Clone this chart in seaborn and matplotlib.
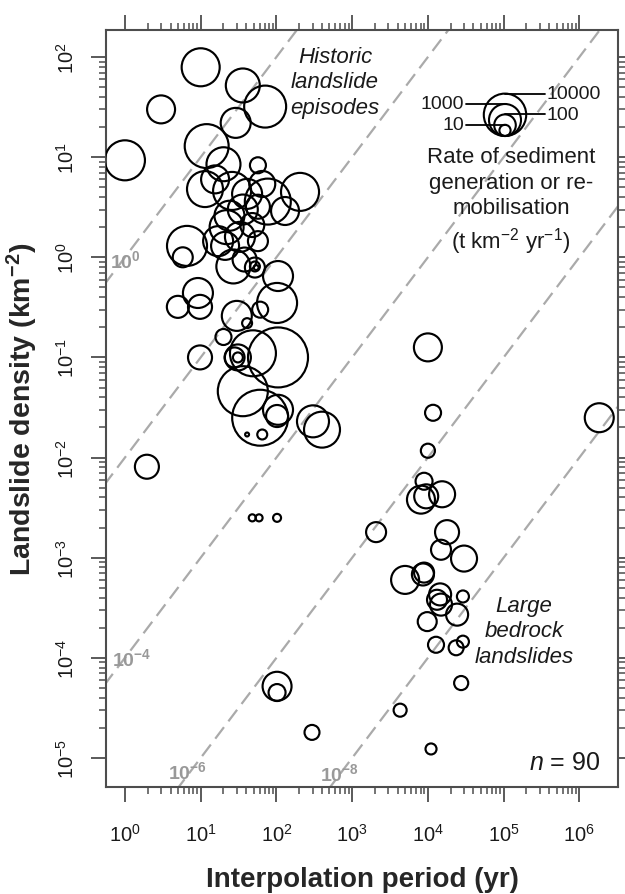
import numpy as np
import pandas as pd
import matplotlib
matplotlib.use("Agg")
import matplotlib.pyplot as plt
import seaborn as sns
from matplotlib.ticker import FixedLocator, LogFormatterMathtext, NullFormatter

# ---------------- data ----------------
period = [10, 3.0, 1.0, 36, 71, 29, 12, 20, 57, 11.4,
          26, 205, 77, 41, 57, 36, 24, 22, 17, 21,
          33, 6.6, 5.8, 57, 27, 52, 52, 54, 105, 9.2,
          5.0, 9.8, 102, 61, 30, 41, 20, 9.8, 31, 31,
          28, 49, 105, 36, 61, 105, 102, 65, 41, 304,
          400, 1.95, 48, 59, 102, 102, 102, 295, 10000, 11700,
          10000, 1.83e6, 8900, 8100, 9500, 15400, 2070, 17900, 14900, 30000,
          5000, 8600, 8900, 14500, 13200, 14900, 29000, 24300, 9800, 12800,
          23600, 29000, 27500, 4300, 11000, 15.5, 48, 130, 38, 65]
density = [79, 30, 9.3, 52, 32, 22, 12.9, 8.5, 8.3, 4.8,
           4.6, 4.5, 3.6, 4.3, 3.2, 3.0, 2.6, 2.0, 1.45, 1.3,
           1.6, 1.3, 1.0, 1.45, 0.81, 0.79, 0.81, 0.79, 0.65, 0.44,
           0.32, 0.32, 0.35, 0.30, 0.26, 0.22, 0.16, 0.10, 0.10, 0.10,
           0.10, 0.11, 0.10, 0.046, 0.025, 0.030, 0.026, 0.017, 0.017, 0.023,
           0.019, 0.0081, 0.0025, 0.0025, 0.0025, 5.2e-5, 4.5e-5, 1.8e-5, 0.126, 0.028,
           0.0117, 0.025, 0.0058, 0.0038, 0.0041, 0.0043, 0.0018, 0.0018, 0.0012, 0.00098,
           0.0006, 0.00068, 0.00071, 0.00043, 0.00038, 0.00034, 0.00041, 0.00027, 0.00023, 0.000135,
           0.000126, 0.000145, 5.6e-5, 3.0e-5, 1.23e-5, 6.0, 2.1, 2.9, 0.95, 5.4]
rate = [3800, 410, 5900, 1550, 9100, 640, 14000, 1550, 29, 2400,
        3800, 3800, 22000, 640, 170, 640, 640, 1550, 640, 410,
        640, 5900, 70, 70, 1550, 70, 7.6, 2.5, 640, 640,
        110, 170, 5900, 29, 640, 7.6, 29, 170, 265, 7.6,
        70, 22000, 490000, 54000, 200000, 640, 110, 7.6, 2.0, 1000,
        2400, 170, 4, 4, 4.9, 510, 36, 23, 410, 29,
        19, 510, 36, 410, 170, 265, 70, 170, 70, 265,
        410, 110, 70, 110, 70, 110, 12, 110, 56, 29,
        23, 12, 19, 15, 9.6, 410, 170, 410, 170, 265]

x_ticks = [1e0, 1e1, 1e2, 1e3, 1e4, 1e5, 1e6]
y_ticks = [1e-5, 1e-4, 1e-3, 1e-2, 1e-1, 1e0, 1e1, 1e2]

ratio_levels = [1e0, 1e-2, 1e-4, 1e-6, 1e-8]
ratio_label_text = [r"$\mathbf{10^{0}}$", r"$\mathbf{10^{-4}}$",
                    r"$\mathbf{10^{-6}}$", r"$\mathbf{10^{-8}}$"]
legend_rates = [10000, 1000, 100, 10]
legend_labels = ["10000", "1000", "100", "10"]

# ---------------- style ----------------
sns.set_theme(style="white")
plt.rcParams['font.family'] = ['Liberation Sans', 'DejaVu Sans']
plt.rcParams['mathtext.fontset'] = 'custom'
plt.rcParams['mathtext.rm'] = 'Liberation Sans'
plt.rcParams['mathtext.it'] = 'Liberation Sans:italic'
plt.rcParams['mathtext.bf'] = 'Liberation Sans:bold'
plt.rcParams['mathtext.default'] = 'regular'

W, H, DPI = 625, 895, 100
fig = plt.figure(figsize=(W / DPI, H / DPI), dpi=DPI)
AX_L, AX_R, AX_T, AX_B = 106, 618, 31, 788
ax = fig.add_axes([AX_L / W, 1 - AX_B / H, (AX_R - AX_L) / W, (AX_B - AX_T) / H])
ax.set_xscale('log')
ax.set_yscale('log')


def px2ax(xp, yp):
    return (xp - AX_L) / (AX_R - AX_L), (AX_B - yp) / (AX_B - AX_T)


def radius_px(r):
    return 5.2 * np.log10(r) + 0.4


def area_pt2(r):
    return (2 * radius_px(np.asarray(r, dtype=float)) * 72 / DPI) ** 2


def minor_between(majors):
    return [m * d for d in majors[:-1] for m in range(2, 10)]


df = pd.DataFrame({"period": period, "density": density, "rate": rate})
df["area"] = area_pt2(df["rate"])
amin, amax = df["area"].min(), df["area"].max()

# reference ratio lines
xs = np.array([1e-2, 1e8])
for k in ratio_levels:
    ax.plot(xs, xs * k, color='#aaaaaa', lw=1.6, dashes=(6.5, 3.3), zorder=1)

sns.scatterplot(data=df, x="period", y="density", size="area",
                sizes=(amin, amax), size_norm=(amin, amax), marker='o',
                facecolor='none', edgecolor='black', linewidth=1.55,
                legend=False, ax=ax, zorder=3)

ax.set_xlim(10 ** -0.25, 10 ** 6.51)
ax.set_ylim(10 ** -5.29, 10 ** 2.27)

# ---------------- axes ----------------
for sp in ax.spines.values():
    sp.set_color('#4d4d4d')
    sp.set_linewidth(1.5)

ax.set_xticks(x_ticks)
ax.set_yticks(y_ticks)
ax.xaxis.set_minor_locator(FixedLocator(minor_between(x_ticks)))
ax.yaxis.set_minor_locator(FixedLocator(minor_between(y_ticks)))
for axis in (ax.xaxis, ax.yaxis):
    axis.set_major_formatter(LogFormatterMathtext())
    axis.set_minor_formatter(NullFormatter())

ax.tick_params(which='both', direction='out', top=True, right=True,
               bottom=True, left=True, color='#4d4d4d', labelcolor='#1a1a1a')
ax.tick_params(which='major', length=11, width=1.3, labelsize=14.5)
ax.tick_params(which='minor', length=5, width=1.1)
ax.tick_params(axis='x', which='major', pad=15)
ax.tick_params(axis='y', which='major', pad=9, labelrotation=90)
plt.setp(ax.get_yticklabels(), va='center')

ax.set_xlabel("Interpolation period (yr)", fontsize=20, fontweight='bold', va='center')
ax.xaxis.set_label_coords(0.5, px2ax(0, 880)[1])
ax.set_ylabel(r"Landslide density (km$^{\mathbf{-2}}$)", fontsize=20.5,
              fontweight='bold', va='center')
ax.yaxis.set_label_coords(px2ax(22, 0)[0], 0.5)

# ratio-line labels
label_pos = [(110, 261), (112, 659), (168, 772), (320, 774)]
for (xp, yp), txt in zip(label_pos, ratio_label_text):
    fx, fy = px2ax(xp, yp)
    ax.text(fx, fy, txt, transform=ax.transAxes, color='#999999', fontsize=14,
            ha='left', va='center', zorder=2)

# group annotations
fx, fy = px2ax(335, 83)
ax.text(fx, fy, "Historic\nlandslide\nepisodes", transform=ax.transAxes,
        fontsize=16, style='italic', ha='center', va='center', color='#1a1a1a',
        linespacing=1.3, zorder=4)
fx, fy = px2ax(524, 632)
ax.text(fx, fy, "Large\nbedrock\nlandslides", transform=ax.transAxes,
        fontsize=16, style='italic', ha='center', va='center', color='#1a1a1a',
        linespacing=1.3, zorder=4)
fx, fy = px2ax(600, 763)
ax.text(fx, fy, r"$\it{n}$ = 90", transform=ax.transAxes, fontsize=18,
        ha='right', va='center', color='#1a1a1a')

# size legend
LCX, LBOT = 505, 137
leg_r = radius_px(np.array(legend_rates, dtype=float))
for R, r, lab in zip(legend_rates, leg_r, legend_labels):
    cx, cy = px2ax(LCX, LBOT - r)
    ax.scatter([cx], [cy], s=area_pt2(R), transform=ax.transAxes,
               facecolor='none', edgecolor='black', linewidth=1.5,
               clip_on=False, zorder=5)
    ytop = LBOT - 2 * r
    if lab in ("10000", "100"):
        x0, x1, xt, ha = LCX, 545, 547, 'left'
    else:
        x0, x1, xt, ha = 466, LCX, 464, 'right'
    a0 = px2ax(x0, ytop)
    a1 = px2ax(x1, ytop)
    ax.plot([a0[0], a1[0]], [a0[1], a1[1]], transform=ax.transAxes,
            color='black', lw=1.3, zorder=5)
    tx, ty = px2ax(xt, ytop)
    ax.text(tx, ty, lab, transform=ax.transAxes, fontsize=14, ha=ha,
            va='center', color='#1a1a1a')

fx, fy = px2ax(511, 202)
ax.text(fx, fy, "Rate of sediment\ngeneration or re-\nmobilisation\n"
        r"(t km$^{-2}$ yr$^{-1}$)", transform=ax.transAxes, fontsize=16,
        ha='center', va='center', color='#1a1a1a', linespacing=1.3)

fig.savefig("out.png", dpi=DPI)
